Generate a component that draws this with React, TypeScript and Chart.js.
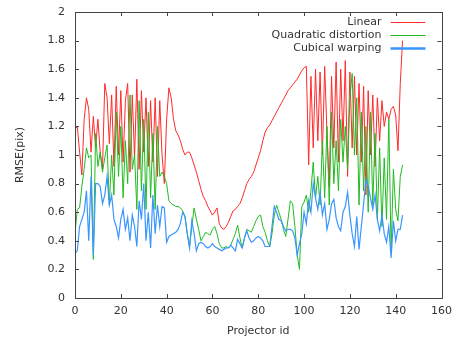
import React, { useEffect, useRef } from "react";
import { Chart, registerables } from "chart.js";

Chart.register(...registerables);

const linear = [
  1.18, 1.20, 1.02, 0.86, 1.25, 1.40, 1.32, 1.02, 1.27, 1.05,
  1.25, 1.02, 0.90, 1.50, 1.40, 1.08, 1.42, 0.92, 1.48, 1.00,
  1.45, 0.95, 1.38, 1.50, 0.88, 1.42, 0.98, 1.53, 0.90, 1.45,
  1.02, 1.40, 0.92, 1.38, 0.95, 1.40, 0.85, 1.38, 1.00, 0.80,
  1.25, 1.47, 1.40, 1.25, 1.17, 1.14, 1.10, 1.04, 1.00, 1.02,
  1.02, 0.98, 0.93, 0.88, 0.82, 0.76, 0.71, 0.68, 0.64, 0.61,
  0.58, 0.60, 0.63, 0.52, 0.49, 0.48, 0.50, 0.53, 0.57, 0.61,
  0.62, 0.64, 0.66, 0.70, 0.75, 0.80, 0.83, 0.85, 0.88, 0.93,
  0.98, 1.03, 1.10, 1.16, 1.19, 1.21, 1.24, 1.27, 1.30, 1.33,
  1.36, 1.39, 1.42, 1.45, 1.47, 1.49, 1.51, 1.53, 1.56, 1.59,
  1.61, 1.62, 0.93, 1.55, 1.05, 1.60, 1.10, 1.58, 1.00, 1.62,
  1.15, 0.78, 1.55, 1.05, 1.65, 0.95, 1.60, 1.10, 1.66, 0.85,
  1.58, 1.05, 1.55, 1.00, 1.50, 0.95, 1.48, 0.72, 1.45, 1.00,
  1.42, 0.92, 1.40, 1.10, 1.38, 1.20, 1.30, 1.25, 1.32, 1.34,
  1.28, 1.03, 1.50, 1.80,
];

const quadratic = [
  0.45, 0.62, 0.63, 0.78, 0.90, 1.05, 0.98, 1.00, 0.27, 1.15,
  0.92, 1.02, 0.88, 0.98, 1.07, 0.65, 1.00, 0.72, 1.30, 0.85,
  1.20, 0.70, 1.10, 0.80, 1.42, 0.90, 1.00, 0.62, 1.38, 0.75,
  1.25, 0.62, 1.30, 0.70, 1.15, 0.62, 1.20, 0.85, 0.88, 0.85,
  0.80, 0.68, 0.66, 0.65, 0.64, 0.64, 0.63, 0.61, 0.57, 0.45,
  0.36, 0.50, 0.63, 0.55, 0.48, 0.40, 0.43, 0.46, 0.45, 0.44,
  0.48, 0.50, 0.45, 0.38, 0.35, 0.35, 0.36, 0.35, 0.37, 0.41,
  0.45, 0.51, 0.42, 0.35, 0.42, 0.48, 0.47, 0.46, 0.50, 0.54,
  0.57, 0.58, 0.50, 0.46, 0.40, 0.36, 0.45, 0.58, 0.65, 0.60,
  0.55, 0.48, 0.43, 0.55, 0.68, 0.66, 0.50, 0.30, 0.20, 0.64,
  0.67, 0.72, 0.60, 0.75, 0.95, 0.70, 0.85, 0.65, 1.10, 0.70,
  1.20, 0.65, 1.30, 0.80, 1.10, 0.75, 1.25, 0.95, 1.20, 0.90,
  1.40, 1.57, 1.00, 1.40, 0.65, 1.30, 0.75, 1.20, 0.60, 1.30,
  0.65, 1.15, 0.55, 1.05, 0.50, 0.98, 0.55, 1.25, 0.32, 0.90,
  0.62, 0.54, 0.85, 0.93,
];

const cubical = [
  0.31, 0.33, 0.50, 0.55, 0.60, 0.75, 0.40, 0.85, 0.30, 0.80,
  0.80, 0.78, 0.66, 0.72, 0.85, 0.65, 0.72, 0.55, 0.50, 0.42,
  0.55, 0.62, 0.48, 0.56, 0.40, 0.58, 0.50, 0.36, 0.68, 0.55,
  0.80, 0.40, 0.60, 0.35, 0.72, 0.45, 0.65, 0.50, 0.64, 0.63,
  0.39, 0.43, 0.44, 0.45, 0.46, 0.48, 0.52, 0.60, 0.57, 0.45,
  0.35, 0.54, 0.45, 0.33, 0.38, 0.39, 0.38, 0.36, 0.35, 0.36,
  0.38, 0.36, 0.35, 0.34, 0.33, 0.34, 0.35, 0.35, 0.37, 0.35,
  0.33, 0.41, 0.38, 0.35, 0.42, 0.47, 0.42, 0.39, 0.40, 0.42,
  0.43, 0.42, 0.40, 0.36, 0.36, 0.36, 0.50, 0.64, 0.60, 0.55,
  0.54, 0.50, 0.47, 0.48, 0.48, 0.47, 0.42, 0.30, 0.38, 0.45,
  0.60, 0.52, 0.68, 0.60, 0.80, 0.70, 0.62, 0.74, 0.58, 0.66,
  0.48, 0.55, 0.66, 0.69, 0.56, 0.50, 0.47, 0.60, 0.64, 0.74,
  0.58, 0.45, 0.36, 0.57, 0.34, 0.50, 0.66, 0.83, 0.78, 0.70,
  0.62, 0.72, 0.55, 0.47, 0.58, 0.45, 0.39, 0.50, 0.28, 0.54,
  0.40, 0.48, 0.48, 0.58,
];

const seriesLabels = ["Linear", "Quadratic distortion", "Cubical warping"];
const seriesColors = ["#ff2a2a", "#22bb22", "#3a96ff"];

const FONT = "'DejaVu Sans', sans-serif";
const TEXT = "#333333";

export default function App() {
  const ref = useRef<HTMLCanvasElement>(null);

  useEffect(() => {
    document.body.style.margin = "0";
    const canvas = ref.current;
    if (!canvas) return;

    const framePlugin = {
      id: "gnuFrame",
      afterDraw(chart: any) {
        const { ctx, chartArea: a, scales } = chart;
        ctx.save();
        ctx.strokeStyle = "#444444";
        ctx.lineWidth = 1;
        const tl = 4;
        ctx.beginPath();
        scales.x.ticks.forEach((t: any) => {
          const px = Math.round(scales.x.getPixelForValue(t.value)) + 0.5;
          ctx.moveTo(px, a.bottom);
          ctx.lineTo(px, a.bottom - tl);
          ctx.moveTo(px, a.top);
          ctx.lineTo(px, a.top + tl);
        });
        scales.y.ticks.forEach((t: any) => {
          const py = Math.round(scales.y.getPixelForValue(t.value)) + 0.5;
          ctx.moveTo(a.left, py);
          ctx.lineTo(a.left + tl, py);
          ctx.moveTo(a.right, py);
          ctx.lineTo(a.right - tl, py);
        });
        ctx.stroke();
        ctx.strokeRect(Math.round(a.left) + 0.5, Math.round(a.top) + 0.5,
          Math.round(a.right - a.left), Math.round(a.bottom - a.top));

        // legend
        ctx.font = `11px ${FONT}`;
        ctx.textAlign = "right";
        ctx.textBaseline = "middle";
        chart.data.datasets.forEach((ds: any, i: number) => {
          const y = Math.round(a.top + 9.5 + i * 13.4) + 0.5;
          ctx.fillStyle = TEXT;
          ctx.fillText(ds.label, a.right - 60, y);
          ctx.strokeStyle = ds.borderColor;
          ctx.lineWidth = i === 2 ? 2.5 : 1;
          ctx.beginPath();
          ctx.moveTo(a.right - 51, y);
          ctx.lineTo(a.right - 16, y);
          ctx.stroke();
        });
        ctx.restore();
      },
    };

    const mk = (vals: number[]) => vals.map((v, i) => ({ x: i, y: v }));
    const all = [linear, quadratic, cubical];

    const chart = new Chart(canvas, {
      type: "line",
      data: {
        datasets: all.map((vals, i) => ({
          label: seriesLabels[i],
          data: mk(vals),
          borderColor: seriesColors[i],
          backgroundColor: seriesColors[i],
          borderWidth: i === 2 ? 1.2 : 1,
          pointRadius: 0,
          tension: 0,
          fill: false,
          order: 3 - i,
        })),
      },
      options: {
        responsive: false,
        animation: false,
        devicePixelRatio: 1,
        layout: { padding: { top: 12, right: 12, bottom: 0, left: 0 } },
        plugins: {
          legend: { display: false },
          tooltip: { enabled: false },
        },
        scales: {
          x: {
            type: "linear",
            min: 0,
            max: 160,
            border: { display: false },
            grid: { display: false, drawTicks: false },
            ticks: {
              stepSize: 20,
              padding: 7,
              maxRotation: 0,
              color: TEXT,
              font: { family: FONT, size: 11 },
            },
            title: {
              display: true,
              text: "Projector id",
              color: TEXT,
              font: { family: FONT, size: 11 },
              padding: { top: 0, bottom: 3 },
            },
            afterFit: (s: any) => {
              s.height = 43;
            },
          },
          y: {
            type: "linear",
            min: 0,
            max: 2,
            border: { display: false },
            grid: { display: false, drawTicks: false },
            ticks: {
              stepSize: 0.2,
              padding: 10,
              color: TEXT,
              font: { family: FONT, size: 11 },
              callback: (v: any) => String(Math.round(Number(v) * 10) / 10),
            },
            title: {
              display: true,
              text: "RMSE(pix)",
              color: TEXT,
              font: { family: FONT, size: 11 },
              padding: { top: 14, bottom: 0 },
            },
            afterFit: (s: any) => {
              s.width = 75;
              s.paddingTop = 0;
              s.paddingBottom = 0;
            },
          },
        },
      },
      plugins: [framePlugin],
    });

    return () => chart.destroy();
  }, []);

  return (
    <div style={{ width: 459, height: 341, background: "#ffffff" }}>
      <canvas ref={ref} width={459} height={341} style={{ display: "block" }} />
    </div>
  );
}
